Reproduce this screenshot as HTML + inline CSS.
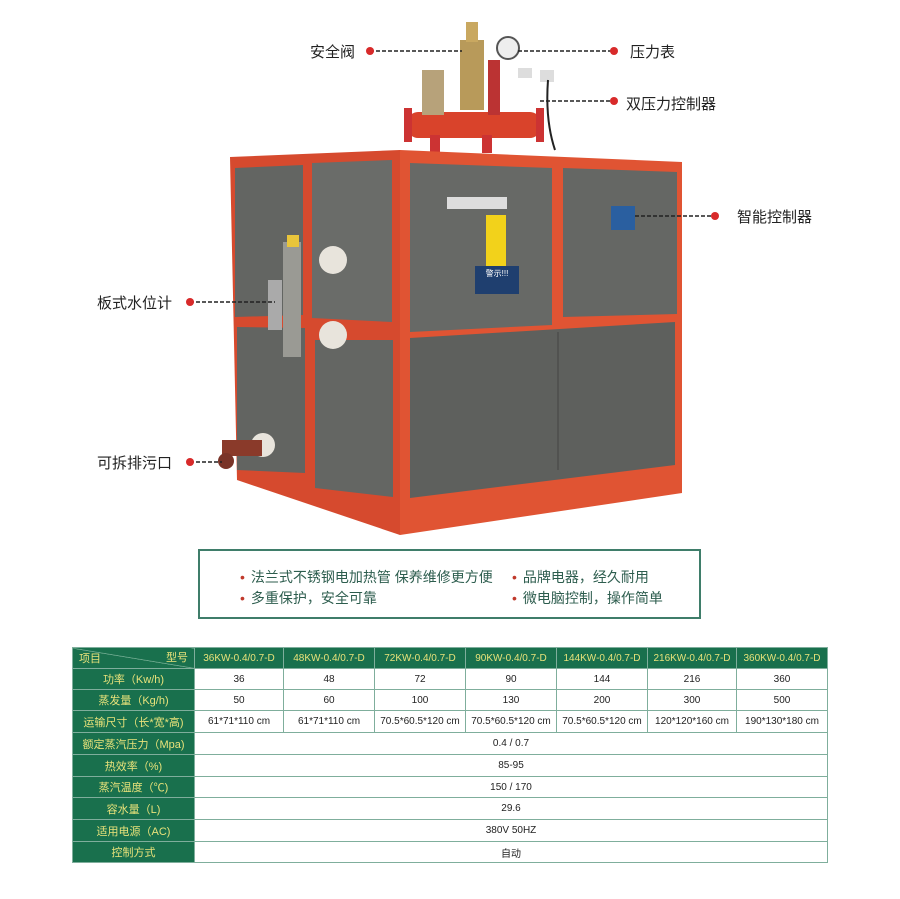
<!DOCTYPE html>
<html><head><meta charset="utf-8"><style>
body{margin:0;width:900px;height:899px;background:#fff;position:relative;font-family:"Liberation Sans","Noto Sans CJK SC",sans-serif;overflow:hidden}
.lbl{position:absolute;font-size:15px;color:#222;white-space:nowrap}
.box{position:absolute;left:198px;top:549px;width:503px;height:70px;border:2px solid #3f7d6a;box-sizing:border-box}
.box div{position:absolute;font-size:14px;color:#2d5d4e;white-space:nowrap}
.box span{color:#c0392b;margin-right:6px}
table{position:absolute;left:72px;top:647px;border-collapse:collapse;font-size:10px;color:#222}
td{border:1px solid #7fae9c;text-align:center;padding:0;height:20px}
td.h{background:#19704d;color:#e8e27a;font-size:11px;width:121px}
tr.hd td{background:#19704d;color:#e8e27a}
</style></head><body>
<svg width="900" height="540" style="position:absolute;left:0;top:0">
<!-- top piping -->
<rect x="408" y="112" width="132" height="26" rx="10" fill="#d9432b"/>
<rect x="404" y="108" width="8" height="34" fill="#c33"/>
<rect x="536" y="108" width="8" height="34" fill="#c33"/>
<rect x="422" y="70" width="22" height="45" fill="#b7a27a"/>
<rect x="460" y="40" width="24" height="70" fill="#b89a5a"/>
<rect x="466" y="22" width="12" height="20" fill="#c9a860"/>
<rect x="488" y="60" width="12" height="55" fill="#b33"/>
<circle cx="508" cy="48" r="11" fill="#eee" stroke="#555" stroke-width="2"/>
<rect x="518" y="68" width="14" height="10" fill="#ddd"/>
<rect x="540" y="70" width="14" height="12" fill="#ddd"/>
<path d="M548 80 Q545 120 555 150" stroke="#222" fill="none" stroke-width="2"/>
<rect x="430" y="135" width="10" height="18" fill="#c33"/>
<rect x="482" y="135" width="10" height="18" fill="#c33"/>
<!-- body -->
<polygon points="230,157 400,150 400,535 237,480" fill="#d64a2e"/>
<polygon points="400,150 682,162 682,493 400,535" fill="#e05433"/>
<polygon points="235,168 303,165 303,315 235,317" fill="#636562"/>
<polygon points="237,327 305,328 305,473 237,470" fill="#626461"/>
<polygon points="312,163 392,160 392,322 312,318" fill="#6a6c69"/>
<polygon points="315,340 393,340 393,497 315,488" fill="#646663"/>
<polygon points="410,163 552,168 552,325 410,332" fill="#676966"/>
<polygon points="563,168 677,172 677,314 563,317" fill="#656764"/>
<polygon points="410,338 675,322 675,465 410,498" fill="#5e605d"/>
<line x1="558" y1="332" x2="558" y2="470" stroke="#444"/>
<!-- details -->
<rect x="447" y="197" width="60" height="12" fill="#ddd"/>
<rect x="486" y="215" width="20" height="52" fill="#f2d21b"/>
<rect x="475" y="266" width="44" height="28" fill="#1f3f6f"/>
<text x="497" y="276" font-size="8" fill="#fff" text-anchor="middle">警示!!!</text>
<rect x="611" y="206" width="24" height="24" fill="#2a5fa0"/>
<rect x="283" y="242" width="18" height="115" fill="#9a9a94"/>
<rect x="287" y="235" width="12" height="12" fill="#e9c53b"/>
<rect x="268" y="280" width="14" height="50" fill="#aaa"/>
<circle cx="333" cy="260" r="14" fill="#e8e4dc"/>
<circle cx="333" cy="335" r="14" fill="#e8e4dc"/>
<circle cx="263" cy="445" r="12" fill="#e8e4dc"/>
<rect x="222" y="440" width="40" height="16" fill="#8a3a2a"/>
<circle cx="226" cy="461" r="8" fill="#7a3428"/>
</svg>
<!-- label lines -->
<svg width="900" height="540" style="position:absolute;left:0;top:0">
<g stroke="#222" stroke-dasharray="4,2" stroke-width="1.5">
<line x1="370" y1="51" x2="462" y2="51"/>
<line x1="518" y1="51" x2="612" y2="51"/>
<line x1="540" y1="101" x2="612" y2="101"/>
<line x1="635" y1="216" x2="713" y2="216"/>
<line x1="190" y1="302" x2="275" y2="302"/>
<line x1="190" y1="462" x2="222" y2="462"/>
</g>
<g fill="#d82a2a">
<circle cx="370" cy="51" r="4"/><circle cx="614" cy="51" r="4"/><circle cx="614" cy="101" r="4"/>
<circle cx="715" cy="216" r="4"/><circle cx="190" cy="302" r="4"/><circle cx="190" cy="462" r="4"/>
</g>
</svg>
<div class="lbl" style="left:310px;top:41px">安全阀</div>
<div class="lbl" style="left:630px;top:41px">压力表</div>
<div class="lbl" style="left:626px;top:93px">双压力控制器</div>
<div class="lbl" style="left:737px;top:206px">智能控制器</div>
<div class="lbl" style="left:97px;top:292px">板式水位计</div>
<div class="lbl" style="left:97px;top:452px">可拆排污口</div>
<div class="box">
<div style="left:40px;top:16px"><span>•</span>法兰式不锈钢电加热管 保养维修更方便</div>
<div style="left:40px;top:37px"><span>•</span>多重保护，安全可靠</div>
<div style="left:312px;top:16px"><span>•</span>品牌电器，经久耐用</div>
<div style="left:312px;top:37px"><span>•</span>微电脑控制，操作简单</div>
</div>
<table>
<tr class="hd" style="height:20px"><td class="h" style="text-align:left;position:relative;background:linear-gradient(to top right,#19704d 49%,#8fc0a8 50%,#19704d 52%)"><span style="position:absolute;left:6px;bottom:2px">项目</span><span style="position:absolute;right:6px;top:1px">型号</span></td><td style="width:88px">36KW-0.4/0.7-D</td><td style="width:90px">48KW-0.4/0.7-D</td><td style="width:90px">72KW-0.4/0.7-D</td><td style="width:90px">90KW-0.4/0.7-D</td><td style="width:90px">144KW-0.4/0.7-D</td><td style="width:88px">216KW-0.4/0.7-D</td><td style="width:90px">360KW-0.4/0.7-D</td></tr>
<tr><td class="h">功率（Kw/h)</td><td>36</td><td>48</td><td>72</td><td>90</td><td>144</td><td>216</td><td>360</td></tr>
<tr><td class="h">蒸发量（Kg/h)</td><td>50</td><td>60</td><td>100</td><td>130</td><td>200</td><td>300</td><td>500</td></tr>
<tr style="height:22px"><td class="h">运输尺寸（长*宽*高)</td><td>61*71*110 cm</td><td>61*71*110 cm</td><td>70.5*60.5*120 cm</td><td>70.5*60.5*120 cm</td><td>70.5*60.5*120 cm</td><td>120*120*160 cm</td><td>190*130*180 cm</td></tr>
<tr style="height:22px"><td class="h">额定蒸汽压力（Mpa)</td><td colspan="7">0.4 / 0.7</td></tr>
<tr style="height:22px"><td class="h">热效率（%)</td><td colspan="7">85-95</td></tr>
<tr style="height:21px"><td class="h">蒸汽温度（℃)</td><td colspan="7">150 / 170</td></tr>
<tr style="height:22px"><td class="h">容水量（L)</td><td colspan="7">29.6</td></tr>
<tr style="height:22px"><td class="h">适用电源（AC)</td><td colspan="7">380V 50HZ</td></tr>
<tr style="height:21px"><td class="h">控制方式</td><td colspan="7">自动</td></tr>
</table>
</body></html>
